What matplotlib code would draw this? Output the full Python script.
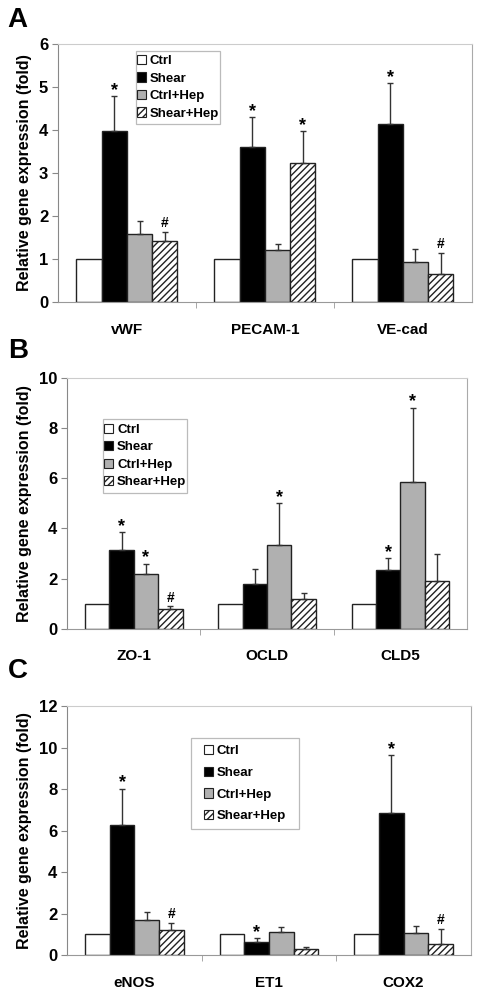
import numpy as np
import matplotlib
matplotlib.use("Agg")
import matplotlib.pyplot as plt
from matplotlib.patches import Patch, Rectangle

plt.rcParams['font.family'] = ['Liberation Sans', 'DejaVu Sans']
plt.rcParams['font.weight'] = 'bold'
plt.rcParams['hatch.linewidth'] = 1.0

groups = ["Ctrl", "Shear", "Ctrl+Hep", "Shear+Hep"]

# Panel A
genes_a = ["vWF", "PECAM-1", "VE-cad"]
mean_a = [[1.0, 1.0, 1.0],
          [3.96, 3.60, 4.13],
          [1.57, 1.20, 0.92],
          [1.41, 3.22, 0.64]]
err_a = [[0.0, 0.0, 0.0],
         [0.82, 0.69, 0.95],
         [0.30, 0.15, 0.30],
         [0.22, 0.74, 0.50]]
marks_a = [["", "", ""],
           ["*", "*", "*"],
           ["", "", ""],
           ["#", "*", "#"]]

# Panel B
genes_b = ["ZO-1", "OCLD", "CLD5"]
mean_b = [[1.0, 1.0, 1.0],
          [3.14, 1.78, 2.36],
          [2.20, 3.32, 5.85],
          [0.80, 1.19, 1.90]]
err_b = [[0.0, 0.0, 0.0],
         [0.71, 0.62, 0.45],
         [0.40, 1.68, 2.98],
         [0.10, 0.24, 1.08]]
marks_b = [["", "", ""],
           ["*", "", "*"],
           ["*", "*", "*"],
           ["#", "", ""]]

# Panel C
genes_c = ["eNOS", "ET1", "COX2"]
mean_c = [[1.0, 1.0, 1.0],
          [6.28, 0.64, 6.84],
          [1.69, 1.11, 1.08],
          [1.24, 0.29, 0.53]]
err_c = [[0.0, 0.0, 0.0],
         [1.74, 0.20, 2.80],
         [0.40, 0.24, 0.32],
         [0.32, 0.13, 0.74]]
marks_c = [["", "", ""],
           ["*", "*", "*"],
           ["", "", ""],
           ["#", "", "#"]]

fills = ["white", "black", "#b0b0b0", "white"]
hatches = [None, None, None, "/////"]
width = 0.183


def draw_panel(ax, genes, means, errs, marks, ymax, ystep, box, leg_space):
    x = np.arange(len(genes))
    for i, g in enumerate(groups):
        pos = x + (i - 1.5) * width
        ax.bar(pos, means[i], width, color=fills[i], edgecolor="#222222",
               linewidth=1.0, hatch=hatches[i], zorder=2)
        if i > 0:
            ax.errorbar(pos, means[i], yerr=[np.zeros(len(genes)), errs[i]],
                        fmt="none", ecolor="#333333", elinewidth=1.0,
                        capsize=2.5, capthick=1.0, zorder=3)
        for j in range(len(genes)):
            if marks[i][j]:
                top = means[i][j] + errs[i][j]
                if marks[i][j] == "*":
                    ax.annotate("*", (pos[j], top), xytext=(0, -2),
                                textcoords="offset points", ha="center",
                                va="bottom", fontsize=13, fontweight="bold")
                else:
                    ax.annotate("#", (pos[j], top), xytext=(0, 1),
                                textcoords="offset points", ha="center",
                                va="bottom", fontsize=10, fontweight="bold")

    ax.set_xlim(-0.5, len(genes) - 0.5)
    ax.set_ylim(0, ymax)
    ax.set_yticks(np.arange(0, ymax + 0.1, ystep))
    ax.set_xticks(x)
    ax.set_xticklabels(genes, fontsize=11, fontweight="bold")
    ax.set_xticks(x[:-1] + 0.5, minor=True)
    ax.tick_params(axis="x", which="major", length=0, pad=15)
    ax.tick_params(axis="x", which="minor", length=4, color="#999999",
                   direction="out")
    ax.tick_params(axis="y", length=4, color="#888888", labelsize=12, pad=3)
    for lab in ax.get_yticklabels():
        lab.set_fontweight("bold")
    ax.set_ylabel("Relative gene expression (fold)", fontsize=11.5,
                  fontweight="bold", labelpad=5)
    ax.spines["left"].set_color("#888888")
    ax.spines["bottom"].set_color("#999999")
    ax.spines["top"].set_color("#cccccc")
    ax.spines["right"].set_color("#aaaaaa")

    # legend box drawn separately, Excel style
    x0, y0, x1, y1 = box
    ax.add_patch(Rectangle((x0, y0), x1 - x0, y1 - y0, transform=ax.transAxes,
                           facecolor="white", edgecolor="#bbbbbb",
                           linewidth=0.9, zorder=4, clip_on=False))
    handles = [Patch(facecolor=fills[i], edgecolor="#222222", hatch=hatches[i],
                     linewidth=0.8) for i in range(len(groups))]
    leg = ax.legend(handles, groups, loc="center",
                    bbox_to_anchor=((x0 + x1) / 2, (y0 + y1) / 2),
                    fontsize=9.5, frameon=False,
                    handlelength=0.7, handleheight=0.7, handletextpad=0.3,
                    labelspacing=leg_space, borderpad=0, borderaxespad=0)
    leg.set_zorder(5)
    for t in leg.get_texts():
        t.set_fontweight("bold")


fig = plt.figure(figsize=(4.79, 9.93), dpi=100)

ax_a = fig.add_axes([0.121, 0.696, 0.864, 0.260])
draw_panel(ax_a, genes_a, mean_a, err_a, marks_a, 6, 1,
           (0.188, 0.690, 0.391, 0.973), 0.4)

ax_b = fig.add_axes([0.140, 0.367, 0.835, 0.252])
draw_panel(ax_b, genes_b, mean_b, err_b, marks_b, 10, 2,
           (0.09, 0.542, 0.30, 0.837), 0.4)

ax_c = fig.add_axes([0.140, 0.038, 0.843, 0.251])
draw_panel(ax_c, genes_c, mean_c, err_c, marks_c, 12, 2,
           (0.307, 0.506, 0.574, 0.871), 0.72)

fig.text(0.016, 0.993, "A", fontsize=20, fontweight="bold", va="top")
fig.text(0.016, 0.660, "B", fontsize=20, fontweight="bold", va="top")
fig.text(0.016, 0.337, "C", fontsize=20, fontweight="bold", va="top")

fig.savefig("out.png", dpi=100)
